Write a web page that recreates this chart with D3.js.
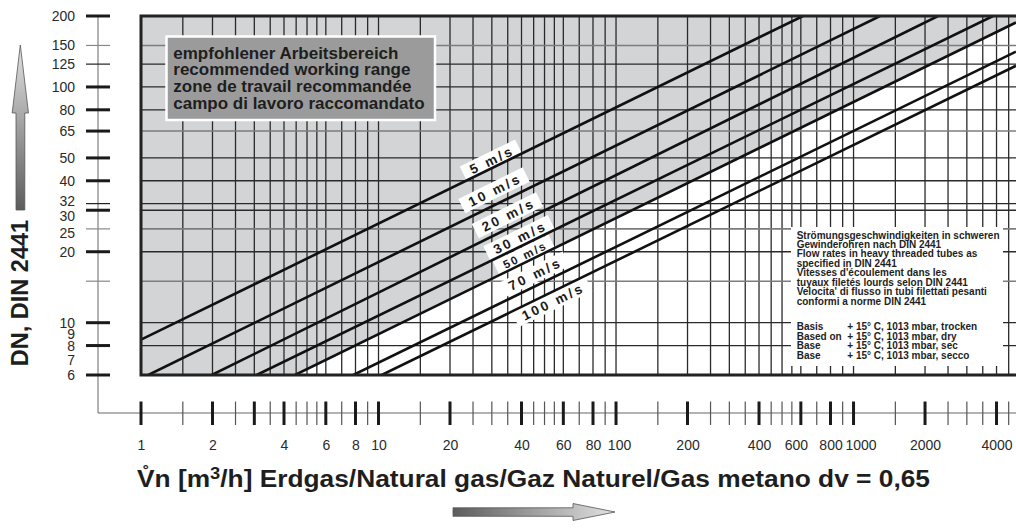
<!DOCTYPE html>
<html>
<head>
<meta charset="utf-8">
<script src="https://cdn.jsdelivr.net/npm/d3@7"></script>
<style>
  body { margin: 0; background: #fff; }
  svg { display: block; font-family: "Liberation Sans", Arial, Helvetica, sans-serif; }
</style>
</head>
<body>
<div id="chart"></div>
<script>
// gas velocity lines: flow rate Vn (m3/h) against nominal width DN
const speeds = [5, 10, 20, 30, 50, 70, 100];
const startQ = [1, 1.073, 1.985, 3.07, 4.45, 7.83, 10.31];
const startDN = [8.47, 6, 6, 6, 6, 6, 6];
const endQ = [612.6, 1293, 2269, 3866, 4831, 4831, 4831];
const endDN = [200, 200, 200, 200, 187.7, 141.2, 123];

// where the "x m/s" tags sit
const labelQ = [30, 30.9, 35.2, 39.4, 41.4, 45.6, 54.3];
const labelDN = [49.1, 36.6, 28.7, 23.0, 19.4, 16.1, 12.3];

// recommended working range = everything above the 50 m/s line
const rangeQ = [1, 4831, 4831, 4.45, 1];
const rangeDN = [200, 200, 187.7, 6, 6];

const xTicks = [1, 1.5, 2, 2.5, 3, 3.5, 4, 4.5, 5, 5.5, 6, 7, 8, 9, 10,
  15, 20, 25, 30, 35, 40, 45, 50, 55, 60, 70, 80, 90, 100,
  150, 200, 250, 300, 350, 400, 450, 500, 550, 600, 700, 800, 900, 1000,
  1500, 2000, 2500, 3000, 3500, 4000, 4500];
const xMajor = [1, 2, 3, 4, 6, 8, 10, 20, 40, 60, 80, 100, 200, 400, 600, 800, 1000, 2000, 4000];
const xLabels = [1, 2, 4, 6, 8, 10, 20, 40, 60, 80, 100, 200, 400, 600, 800, 1000, 2000, 4000];

const yTicks = [200, 150, 125, 100, 80, 65, 50, 40, 32, 30, 25, 20, 15, 10, 8, 6];
const yMajor = [200, 100, 80, 65, 50, 40, 30, 20, 10, 8, 6];
const yGrey = [150, 65, 25, 15];
const yLabels = [200, 150, 125, 100, 80, 65, 50, 40, 32, 30, 25, 20, 10, 9, 8, 7, 6];

const legendLines = ["empfohlener Arbeitsbereich", "recommended working range",
  "zone de travail recommandée", "campo di lavoro raccomandato"];
const noteLines = ["Strömungsgeschwindigkeiten in schweren", "Gewinderohren nach DIN 2441",
  "Flow rates in heavy threaded tubes as", "specified in DIN 2441",
  "Vitesses d'écoulement dans les", "tuyaux filetés lourds selon DIN 2441",
  "Velocita' di flusso in tubi filettati pesanti", "conformi a norme DIN 2441"];
const basisNames = ["Basis", "Based on", "Base", "Base"];
const basisText = ["+ 15° C, 1013 mbar, trocken", "+ 15° C, 1013 mbar, dry",
  "+ 15° C, 1013 mbar, sec", "+ 15° C, 1013 mbar, secco"];

const W = 1016, H = 528;
const pL = 141, pR = 1016, pT = 16, pB = 375;

const svg = d3.select("#chart").append("svg")
  .attr("width", W).attr("height", H);

const x = d3.scaleLog().domain([1, 4831]).range([pL, pR]);
const y = d3.scaleLog().domain([6, 200]).range([pB, pT]);

const defs = svg.append("defs");
defs.append("clipPath").attr("id", "plot")
  .append("rect").attr("x", pL).attr("y", pT)
  .attr("width", pR - pL).attr("height", pB - pT);
const gUp = defs.append("linearGradient").attr("id", "gUp")
  .attr("x1", 0).attr("y1", 0).attr("x2", 0).attr("y2", 1);
gUp.append("stop").attr("offset", 0).attr("stop-color", "#e2e2e2");
gUp.append("stop").attr("offset", 1).attr("stop-color", "#5c5c5c");
const gRight = defs.append("linearGradient").attr("id", "gRight")
  .attr("x1", 0).attr("y1", 0).attr("x2", 1).attr("y2", 0);
gRight.append("stop").attr("offset", 0).attr("stop-color", "#5c5c5c");
gRight.append("stop").attr("offset", 1).attr("stop-color", "#e2e2e2");

const plot = svg.append("g").attr("clip-path", "url(#plot)");

// grey recommended range
plot.append("path")
  .attr("d", d3.line().x(i => x(rangeQ[i])).y(i => y(rangeDN[i]))(d3.range(rangeQ.length)) + "Z")
  .attr("fill", "#d3d4d6");

// grid
plot.append("g").selectAll("line")
  .data(xTicks.filter(d => d > 1))
  .join("line")
  .attr("x1", d => x(d)).attr("x2", d => x(d))
  .attr("y1", pT).attr("y2", pB)
  .attr("stroke", "#2a2a2a").attr("stroke-width", 1.3);

plot.append("g").selectAll("line")
  .data(yTicks.filter(d => d < 200 && d > 6))
  .join("line")
  .attr("x1", pL).attr("x2", pR)
  .attr("y1", d => y(d)).attr("y2", d => y(d))
  .attr("stroke", d => yGrey.includes(d) ? "#7c7c7c" : "#2a2a2a")
  .attr("stroke-width", d => yGrey.includes(d) ? 1.6 : 1.3);

// white panel behind the note text
plot.append("rect")
  .attr("x", 791).attr("y", 227).attr("width", 212).attr("height", 139)
  .attr("fill", "#fff");

// velocity tags: white boxes first
const tags = plot.append("g").selectAll("g")
  .data(speeds)
  .join("g")
  .attr("transform", (d, i) => {
    const ang = Math.atan2(y(startDN[i]) - y(endDN[i]), x(endQ[i]) - x(startQ[i])) * 180 / Math.PI;
    return `translate(${x(labelQ[i])},${y(labelDN[i])}) rotate(${-ang})`;
  });
tags.append("rect").attr("fill", "#fff");

// velocity lines
plot.append("g").selectAll("line")
  .data(speeds)
  .join("line")
  .attr("x1", (d, i) => x(startQ[i])).attr("y1", (d, i) => y(startDN[i]))
  .attr("x2", (d, i) => x(endQ[i])).attr("y2", (d, i) => y(endDN[i]))
  .attr("stroke", "#111").attr("stroke-width", 2.6);

const tagTexts = tags.append("text")
  .attr("text-anchor", "middle")
  .attr("dy", "0.36em")
  .style("font-weight", "bold")
  .style("font-size", d => d === 50 ? "11.5px" : "13.5px")
  .style("letter-spacing", d => d === 50 ? "2px" : "2.6px")
  .attr("fill", "#1a1a1a")
  .text(d => d + " m/s");
tagTexts.each(function () {
  const w = this.getComputedTextLength();
  d3.select(this.parentNode).select("rect")
    .attr("x", -w / 2 - 8).attr("y", -8).attr("width", w + 14).attr("height", 16);
});

// frame
svg.append("path")
  .attr("d", `M${pR},${pT}H${pL}V${pB}H${pR}`)
  .attr("fill", "none").attr("stroke", "#222").attr("stroke-width", 3);

// legend box
svg.append("rect")
  .attr("x", 166.5).attr("y", 36.5).attr("width", 268.5).attr("height", 83.5)
  .attr("fill", "#9b9b9b").attr("stroke", "#fff").attr("stroke-width", 2.5);
svg.append("g").selectAll("text")
  .data(legendLines)
  .join("text")
  .attr("x", 173.3).attr("y", (d, i) => 58.5 + i * 16.8)
  .style("font-weight", "bold").style("font-size", "17px")
  .attr("fill", "#1e1e1e")
  .text(d => d);

// note text
const note = svg.append("g").style("font-weight", "bold").style("font-size", "10px").attr("fill", "#1e1e1e");
note.selectAll("text.n")
  .data(noteLines)
  .join("text").attr("class", "n")
  .attr("x", 796.7).attr("y", (d, i) => 238.5 + i * 9.48)
  .text(d => d);
note.selectAll("text.b")
  .data(basisNames)
  .join("text").attr("class", "b")
  .attr("x", 796.7).attr("y", (d, i) => 330.2 + i * 9.45)
  .text(d => d);
note.selectAll("text.c")
  .data(basisText)
  .join("text").attr("class", "c")
  .attr("x", 847.3).attr("y", (d, i) => 330.2 + i * 9.45)
  .text(d => d);

// y axis
const axisX = 98, axisY = 413;
svg.append("line")
  .attr("x1", axisX).attr("x2", axisX).attr("y1", pT).attr("y2", axisY)
  .attr("stroke", "#666").attr("stroke-width", 1);
svg.append("g").selectAll("line")
  .data(yTicks)
  .join("line")
  .attr("x1", 86).attr("x2", 110)
  .attr("y1", d => y(d)).attr("y2", d => y(d))
  .attr("stroke", d => yMajor.includes(d) ? "#1a1a1a" : (yGrey.includes(d) ? "#888" : "#222"))
  .attr("stroke-width", d => yMajor.includes(d) ? 3 : 1.2);

const yLabelShift = { 32: -2.5, 30: 5.5, 25: 4, 9: 1, 7: 1 };
svg.append("g").selectAll("text")
  .data(yLabels)
  .join("text")
  .attr("x", 75).attr("y", d => y(d) + 5 + (yLabelShift[d] || 0))
  .attr("text-anchor", "end")
  .style("font-size", "14px").attr("fill", "#2a2a2a")
  .text(d => d);

// x axis
svg.append("line")
  .attr("x1", axisX).attr("x2", pR).attr("y1", axisY).attr("y2", axisY)
  .attr("stroke", "#666").attr("stroke-width", 1);
svg.append("g").selectAll("line")
  .data(xTicks)
  .join("line")
  .attr("x1", d => x(d)).attr("x2", d => x(d))
  .attr("y1", 401.5).attr("y2", 425)
  .attr("stroke", d => xMajor.includes(d) ? "#1a1a1a" : "#555")
  .attr("stroke-width", d => xMajor.includes(d) ? 3 : 1.2);

const xLabelShift = { 600: -5, 1000: 7, 100: 3 };
const xAxis = d3.axisBottom(x).tickValues(xLabels).tickSize(0).tickPadding(0)
  .tickFormat(d3.format("d"));
const xg = svg.append("g").attr("transform", "translate(0,440)").call(xAxis);
xg.select(".domain").remove();
xg.selectAll("text")
  .attr("dy", null).attr("y", 10)
  .attr("x", d => xLabelShift[d] || 0)
  .style("font-size", "14px").style("font-family", "\"Liberation Sans\", Arial, sans-serif")
  .attr("fill", "#2a2a2a");

// axis titles
svg.append("text")
  .attr("transform", "translate(28,293) rotate(-90)")
  .attr("text-anchor", "middle")
  .style("font-weight", "bold").style("font-size", "23.5px")
  .attr("fill", "#1e1e1e")
  .text("DN, DIN 2441");

const xt = svg.append("text")
  .attr("x", 137).attr("y", 487)
  .attr("textLength", 793).attr("lengthAdjust", "spacingAndGlyphs")
  .style("font-weight", "bold").style("font-size", "23px")
  .attr("fill", "#1e1e1e");
xt.append("tspan").text("V\u030An [m");
xt.append("tspan").attr("dy", -8).style("font-size", "16px").text("3");
xt.append("tspan").attr("dy", 8).text("/h] Erdgas/Natural gas/Gaz Naturel/Gas metano dv = 0,65");

// arrows
svg.append("path")
  .attr("d", "M20.3,45 L28.5,113 L24.8,113 L24.8,210 L16,210 L16,113 L12.2,113 Z")
  .attr("fill", "url(#gUp)").attr("stroke", "#555").attr("stroke-width", 0.8);
svg.append("path")
  .attr("d", "M453,507.8 L573,507.8 L573,503.5 L615,512 L573,520.5 L573,516.3 L453,516.3 Z")
  .attr("fill", "url(#gRight)").attr("stroke", "#555").attr("stroke-width", 0.8);
</script>
</body>
</html>
